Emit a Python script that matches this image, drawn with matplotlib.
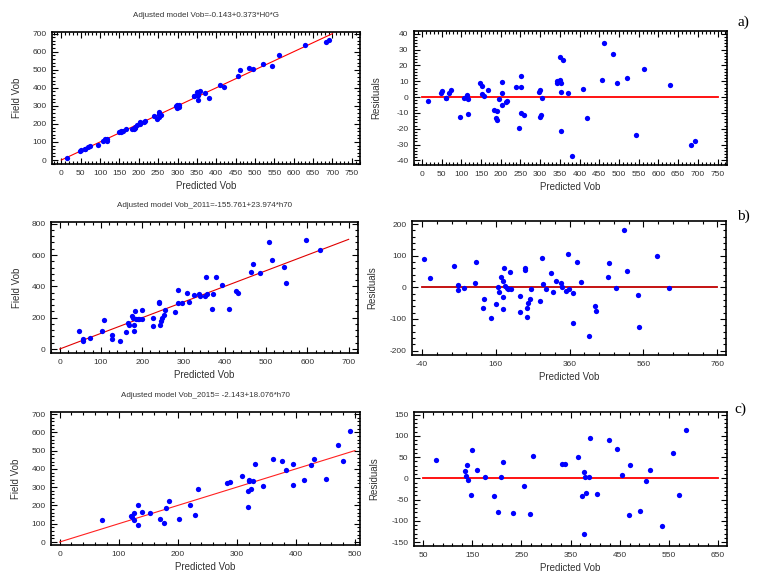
import matplotlib
matplotlib.use("Agg")
import matplotlib.pyplot as plt
from matplotlib.ticker import FixedLocator, AutoMinorLocator
import numpy as np

plt.rcParams['font.family'] = ['Liberation Sans', 'DejaVu Sans']
plt.rcParams['axes.unicode_minus'] = False

# ---------------- data ----------------
# Panel a: predicted Vob and residuals (field = predicted + residual)
a_pred = [15, 49, 52, 60, 62, 69, 73, 96, 108, 114, 117, 117, 148, 153, 153, 158,
          168, 182, 187, 191, 191, 196, 203, 203, 203, 213, 217, 240, 247, 251, 251,
          251, 258, 297, 299, 299, 303, 305, 343, 343, 350, 350, 354, 354, 354, 358,
          371, 380, 409, 420, 457, 462, 484, 494, 520, 543, 563, 630, 683, 692]
a_resid = [-2.5, 2.7, 3.8, -0.6, -0.6, 2.7, 4.4, -12.4, -0.4, 1.1, -1.0, -11.0, 9.0,
           7.0, 1.7, 0.6, 4.2, -8.2, -13.5, -14.5, -8.8, -1.5, 9.7, 2.7, -5.3, -2.9,
           -2.5, 6.5, -19.4, 13.3, 6.5, -10.3, -11.2, 3.2, 4.2, -12.4, -11.4, -0.4,
           10.1, 9.0, 10.5, 25.3, 3.4, 8.6, -21.5, 23.2, 2.3, -37.3, 5.3, -13.5, 10.7,
           34.3, 26.9, 8.6, 11.8, -24.2, 17.9, 7.8, -30.3, -28.0]

# Panel b: predicted Vob and residuals (field = predicted + residual)
b_pred = [-34.6, -17.4, 45.9, 57.6, 57.6, 73.9, 102.8, 107.4, 127.2, 126.3, 146.2,
          160.7, 165.2, 167.9, 174.2, 178.7, 180.5, 180.5, 183.2, 185.1, 189.6, 193.2,
          198.6, 200.4, 226.7, 224.9, 240.2, 240.2, 243.8, 245.6, 248.4, 253.8, 255.6,
          279.1, 286.3, 287.2, 297.2, 308.9, 314.4, 324.3, 337.9, 339.7, 351.4, 356.9,
          355.0, 368.6, 370.4, 378.6, 392.1, 411.1, 428.3, 431.9, 462.6, 467.2, 485.2,
          506.0, 514.1, 544.0, 547.6, 595.5, 629.9]
b_resid = [89.5, 28.4, 66.3, 7.4, -8.4, -3.2, 12.6, 78.9, -36.8, -65.3, -96.8, -53.7,
           0.0, -13.7, 33.7, 18.9, -67.4, -29.5, 61.1, 5.3, -1.1, -4.2, 47.4, -6.3,
           -26.3, -76.8, 62.1, 54.7, -93.7, -65.3, -48.4, -36.8, -6.3, -42.1, 91.6, 9.5,
           -6.3, 46.3, -14.7, 21.1, 14.7, 1.1, -10.5, -6.3, 106.3, -111.6, -16.8, 78.9,
           16.8, -154.7, -57.9, -73.7, 31.6, 75.8, -3.2, 180.0, 52.6, -23.2, -126.3,
           100.0, -1.1]

# Panel c (fit plot): predicted and field Vob
c_pred = [71.6, 120.6, 122.3, 125.1, 125.1, 131.9, 131.9, 139.8, 153.3, 170.2, 175.9,
          180.4, 184.9, 201.3, 221.0, 228.9, 234.5, 284.1, 289.2, 309.5, 319.1, 319.6,
          320.8, 320.8, 324.2, 328.1, 331.0, 343.9, 360.9, 376.1, 384.0, 395.8, 395.8,
          413.8, 425.1, 430.8, 450.5, 471.3, 479.8, 491.1]
c_field = [120, 141.8, 134.5, 160, 120, 201.8, 94.5, 161.8, 160, 127.3, 101.8, 185.4,
           225.4, 123.6, 203.6, 147.3, 289, 323.6, 327.3, 363.6, 280, 190.9, 338.2,
           330.9, 289, 334.5, 427.3, 307.3, 454.5, 445.4, 392.7, 425.4, 310.9, 340,
           423.6, 454.5, 343.6, 530.9, 443.6, 607.2]

# Panel c (residual plot): predicted and residuals
c_rpred = [77.1, 134.8, 139.5, 138.1, 141.5, 148.3, 150.3, 159.8, 175.4, 194.4, 202.6,
           208.0, 213.4, 233.1, 256.1, 267.0, 273.7, 333.4, 338.1, 365.3, 374.1, 376.8,
           376.8, 378.9, 382.2, 387.6, 389.0, 404.6, 427.4, 443.6, 455.1, 468.7, 470.7,
           491.1, 502.6, 510.8, 535.4, 558.5, 570.7, 584.3]
c_resid = [42.4, 16.5, 30.6, 5.5, -4.7, -40.0, 67.5, 18.8, 3.1, -42.4, -79.3, 3.1,
           38.5, -81.7, -18.8, -84.0, 52.6, 34.6, 34.6, 51.0, -41.6, 14.1, -131.9, 3.1,
           -34.6, 3.1, 95.0, -37.7, 90.3, 68.3, 7.1, -87.2, 30.6, -76.2, -6.3, 19.6,
           -112.3, 59.7, -40.0, 114.7]

titles = ["Adjusted model Vob=-0.143+0.373*H0*G",
          "Adjusted model Vob_2011=-155.761+23.974*h70",
          "Adjusted model Vob_2015= -2.143+18.076*h70"]
panel_tags = ["a)", "b)", "c)"]

a_xticks = list(range(0, 751, 50))
a_yticks = list(range(0, 701, 100))
a_rticks = list(range(-40, 41, 10))
b_xticks = list(range(0, 701, 100))
b_yticks = list(range(0, 801, 200))
b_rxticks = list(range(-40, 761, 200))
b_ryticks = list(range(-200, 201, 100))
c_xticks = list(range(0, 501, 100))
c_yticks = list(range(0, 701, 100))
c_rxticks = list(range(50, 651, 100))
c_ryticks = list(range(-150, 151, 50))

# ---------------- figure ----------------
fig = plt.figure(figsize=(7.64, 5.77), dpi=100)
W, H = 764, 577


def add_ax(l, r, t, b):
    return fig.add_axes([l / W, 1 - b / H, (r - l) / W, (b - t) / H])


def style(ax, xlim, ylim, xt, yt, xlabel, ylabel, ylabelpad):
    ax.set_xlim(*xlim)
    ax.set_ylim(*ylim)
    ax.xaxis.set_major_locator(FixedLocator(xt))
    ax.yaxis.set_major_locator(FixedLocator(yt))
    ax.xaxis.set_minor_locator(AutoMinorLocator(5))
    ax.yaxis.set_minor_locator(AutoMinorLocator(5))
    ax.tick_params(which='both', direction='in', top=True, right=True,
                   labelsize=6, labelcolor='#333333', width=0.8)
    ax.tick_params(which='major', length=4, pad=4)
    ax.tick_params(which='minor', length=2)
    for s in ax.spines.values():
        s.set_linewidth(1.2)
    ax.set_xlabel(xlabel, fontsize=7, color='#333333', labelpad=3)
    ax.set_ylabel(ylabel, fontsize=7, color='#333333', labelpad=ylabelpad)


mk = dict(marker='o', linestyle='none', color='#0000ff', markersize=3.8,
          markeredgewidth=0, zorder=3)
title_kw = dict(fontsize=5.8, color='#333333', pad=11)

# Row a
ax = add_ax(52, 360, 32, 164)
a_field = np.array(a_pred) + np.array(a_resid)
ax.plot([0, 700], [0, 700], color='#ff0000', lw=0.8)
ax.plot(a_pred, a_field, **mk)
style(ax, (-24, 771), (-22, 709), a_xticks, a_yticks, "Predicted Vob", "Field Vob", 7)
ax.set_title(titles[0], **title_kw)

ax = add_ax(414, 727, 31, 165)
ax.plot([0, 750], [0, 0], color='#ff0000', lw=1.3)
ax.plot(a_pred, a_resid, **mk)
style(ax, (-20, 774), (-42.9, 41.7), a_xticks, a_rticks, "Predicted Vob", "Residuals", 11)
fig.text(743 / W, 1 - 22 / H, panel_tags[0], fontsize=11, family='Liberation Serif',
         ha='center', va='center')

# Row b
ax = add_ax(51, 358, 222, 353)
bp = np.array(b_pred)
b_field = bp + np.array(b_resid)
shown = bp > 0
ax.plot([0, 700], [0, 700], color='#e00000', lw=0.8)
ax.plot(bp[shown], b_field[shown], **mk)
style(ax, (-21, 722.6), (-25.4, 810.6), b_xticks, b_yticks, "Predicted Vob", "Field Vob", 7)
ax.set_title(titles[1], **title_kw)

ax = add_ax(412, 726, 221, 355)
ax.plot([-40, 760], [0, 0], color='#c00000', lw=1.3)
ax.plot(b_pred, b_resid, **mk)
style(ax, (-67, 783.5), (-213.7, 209.5), b_rxticks, b_ryticks, "Predicted Vob", "Residuals", 9)
fig.text(743 / W, 1 - 216 / H, panel_tags[1], fontsize=11, family='Liberation Serif',
         ha='center', va='center')

# Row c
ax = add_ax(51, 360, 412, 545)
ax.plot([0, 500], [0, 500], color='#ff2020', lw=0.8)
ax.plot(c_pred, c_field, **mk)
style(ax, (-14.7, 508.5), (-16.4, 711), c_xticks, c_yticks, "Predicted Vob", "Field Vob", 7)
ax.set_title(titles[2], **title_kw)

ax = add_ax(414, 727, 412, 546)
ax.plot([50, 650], [0, 0], color='#ff0000', lw=1.3)
ax.plot(c_rpred, c_resid, **mk)
style(ax, (31.7, 668.3), (-159.4, 156.3), c_rxticks, c_ryticks, "Predicted Vob", "Residuals", 9)
fig.text(740 / W, 1 - 409 / H, panel_tags[2], fontsize=11, family='Liberation Serif',
         ha='center', va='center')

fig.savefig("out.png", dpi=100)
